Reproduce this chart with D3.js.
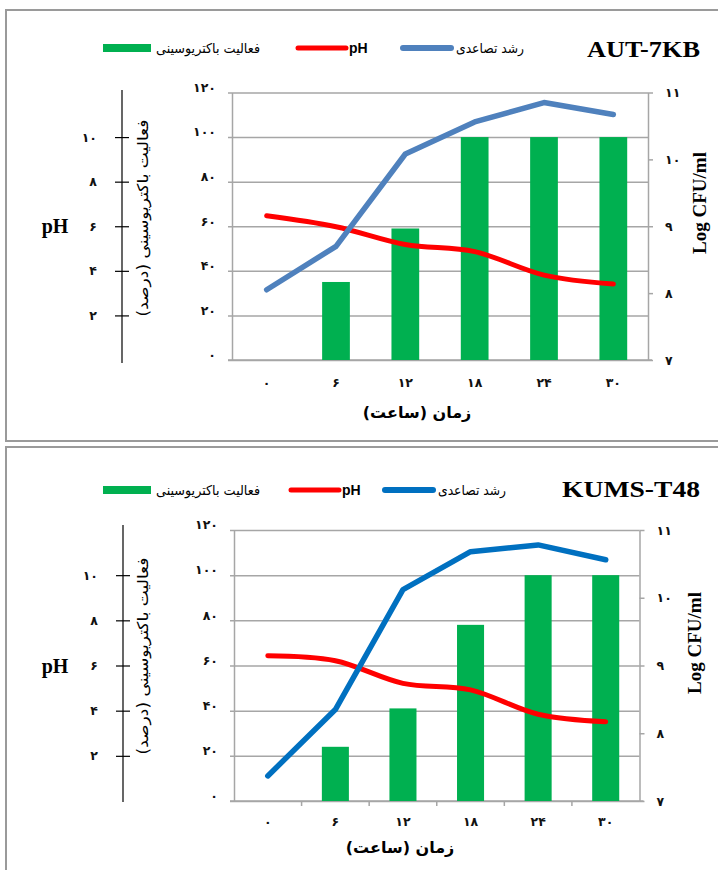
<!DOCTYPE html>
<html><head><meta charset="utf-8">
<script src="https://cdn.jsdelivr.net/npm/d3@7/dist/d3.min.js"></script>
<style>
html,body{margin:0;padding:0;background:#fff;}
svg{display:block;}
.fa{font-family:"DejaVu Sans",sans-serif;}
</style></head>
<body>
<svg id="c" width="718" height="870"></svg>
<script>
// ---------- DATA ----------
const timeLabels = ["0", "6", "12", "18", "24", "30"];
const pctTicks = [0, 20, 40, 60, 80, 100, 120];
const pHTicks = [2, 4, 6, 8, 10];
const logTicks = [7, 8, 9, 10, 11];

const autTitle = "AUT-7KB";
const autBacteriocin = [0, 35, 59, 100, 100, 100];
const autPH = [6.47, 5.98, 5.18, 4.86, 3.81, 3.41];
const autGrowth = [8.05, 8.70, 10.08, 10.56, 10.85, 10.67];

const kumsTitle = "KUMS-T48";
const kumsBacteriocin = [0, 24, 41, 78, 100, 100];
const kumsPH = [6.43, 6.21, 5.21, 4.92, 3.84, 3.51];
const kumsGrowth = [7.37, 8.35, 10.12, 10.68, 10.78, 10.56];

const legendBact = "فعالیت باکتریوسینی";
const legendPH = "pH";
const legendGrowth = "رشد تصاعدی";
const yLeftTitle = "فعالیت باکتریوسینی (درصد)";
const xTitle = "زمان (ساعت)";
const yRightTitle = "Log CFU/ml";
const pHTitle = "pH";

// ---------- HELPERS ----------
const faDigits = "۰۱۲۳۴۵۶۷۸۹";
const fa = s => String(s).replace(/[0-9]/g, d => faDigits[+d]);
const svg = d3.select("#c");
const GREEN = "#00B050", RED = "#FF0000", GRID = "#A6A6A6";

function panel(cfg) {
  const g = svg.append("g");
  g.append("rect").attr("x", 6).attr("y", cfg.boxTop).attr("width", 740).attr("height", cfg.boxH)
    .attr("fill", "none").attr("stroke", "#9a9a9a").attr("stroke-width", 2);

  const L = cfg.L, R = cfg.R, T = cfg.T, B = cfg.B;
  const x = d3.scaleBand().domain(timeLabels).range([L, R]).paddingInner(0.6).paddingOuter(0.3);
  const xp = d3.scalePoint().domain(timeLabels).range([L, R]).padding(0.5);
  const yPct = d3.scaleLinear().domain([0, 120]).range([B, T]);
  const yPH = d3.scaleLinear().domain([0, 12]).range([B, T]);
  const yLog = d3.scaleLinear().domain([7, 11]).range([B, T]);

  const gl = g.append("g").attr("transform", `translate(${L},0)`)
    .call(d3.axisLeft(yPct).tickValues(pctTicks).tickSize(-(R - L)).tickSizeOuter(0).tickPadding(16).tickFormat(fa));
  gl.select(".domain").attr("stroke", GRID).attr("stroke-width", 1.5);
  gl.selectAll(".tick line").attr("stroke", GRID).attr("stroke-width", 1.5).attr("x1", -4);
  gl.selectAll(".tick text").attr("class", "fa").attr("font-size", 12.5).attr("font-weight", "bold")
    .attr("fill", "#111").attr("dy", "-0.1em");

  const gr = g.append("g").attr("transform", `translate(${R},0)`)
    .call(d3.axisRight(yLog).tickValues(logTicks).tickSize(5).tickSizeOuter(0).tickPadding(12).tickFormat(fa));
  gr.select(".domain").attr("stroke", GRID).attr("stroke-width", 1.5);
  gr.selectAll(".tick line").attr("stroke", GRID).attr("stroke-width", 1.5);
  gr.selectAll(".tick text").attr("class", "fa").attr("font-size", 12.5).attr("font-weight", "bold").attr("fill", "#111");

  const gb = g.append("g").attr("transform", `translate(0,${B})`)
    .call(d3.axisBottom(x).tickSize(0).tickPadding(cfg.xPad).tickFormat(fa));
  gb.select(".domain").attr("stroke", GRID).attr("stroke-width", 1.5).attr("d", `M${L - 4},0H${R + 4}`);
  gb.selectAll(".tick text").attr("class", "fa").attr("font-size", 12.5).attr("font-weight", "bold").attr("fill", "#111");
  if (cfg.xTicks) {
    const step = x.step();
    g.append("g").selectAll("line").data(d3.range(1, timeLabels.length)).join("line")
      .attr("x1", i => L + i * step).attr("x2", i => L + i * step)
      .attr("y1", B).attr("y2", B + 5).attr("stroke", GRID).attr("stroke-width", 1.5);
  }

  g.append("g").selectAll("rect").data(cfg.bact).join("rect")
    .attr("x", (d, i) => x(timeLabels[i])).attr("width", x.bandwidth())
    .attr("y", d => yPct(d)).attr("height", d => B - yPct(d)).attr("fill", GREEN);

  g.append("path").datum(cfg.ph)
    .attr("d", d3.line().x((d, i) => xp(timeLabels[i])).y(d => yPH(d)).curve(d3.curveCatmullRom.alpha(0)))
    .attr("fill", "none").attr("stroke", RED).attr("stroke-width", 5).attr("stroke-linecap", "round").attr("stroke-linejoin", "round");
  g.append("path").datum(cfg.growth)
    .attr("d", d3.line().x((d, i) => xp(timeLabels[i])).y(d => yLog(d)))
    .attr("fill", "none").attr("stroke", cfg.blue).attr("stroke-width", 5.5).attr("stroke-linecap", "round").attr("stroke-linejoin", "round");

  const gp = g.append("g").attr("transform", `translate(${cfg.pHx},0)`)
    .call(d3.axisLeft(yPH).tickValues(pHTicks).tickSize(7).tickSizeOuter(0).tickPadding(18).tickFormat(fa));
  gp.select(".domain").attr("stroke", "#000").attr("stroke-width", 1.2).attr("d", `M0,${cfg.pHTop}V${cfg.pHBot}`);
  gp.selectAll(".tick line").attr("stroke", "#000").attr("stroke-width", 1.2).attr("x1", -7).attr("x2", 7);
  gp.selectAll(".tick text").attr("class", "fa").attr("font-size", 12.5).attr("font-weight", "bold").attr("fill", "#111");

  g.append("text").attr("x", 55).attr("y", yPH(6)).attr("dy", "0.35em").attr("text-anchor", "middle")
    .attr("font-family", "Liberation Serif").attr("font-weight", "bold").attr("font-size", 20).text(pHTitle);

  g.append("text").attr("class", "fa").attr("transform", `translate(143,${cfg.ltY}) rotate(-90)`)
    .attr("text-anchor", "middle").attr("dy", "0.35em").attr("direction", "rtl").style("direction", "rtl")
    .attr("font-size", 15).attr("textLength", 197).attr("lengthAdjust", "spacingAndGlyphs")
    .text(yLeftTitle);
  g.append("text").attr("transform", `translate(${cfg.rtX},${cfg.rtY}) rotate(-90)`)
    .attr("text-anchor", "middle").attr("dy", "0.35em")
    .attr("font-family", "Liberation Serif").attr("font-weight", "bold").attr("font-size", 18)
    .attr("textLength", 102).attr("lengthAdjust", "spacingAndGlyphs").text(yRightTitle);
  g.append("text").attr("class", "fa").attr("x", cfg.xtX).attr("y", cfg.xtY).attr("text-anchor", "middle")
    .attr("direction", "rtl").style("direction", "rtl").attr("font-size", 16).attr("font-weight", "bold")
    .text(xTitle);

  g.append("text").attr("x", 700).attr("y", cfg.titleY).attr("text-anchor", "end")
    .attr("font-family", "Liberation Serif").attr("font-weight", "bold").attr("font-size", 24)
    .attr("textLength", cfg.titleW).attr("lengthAdjust", "spacingAndGlyphs").text(cfg.title);

  const ly = cfg.legY;
  g.append("rect").attr("x", 103).attr("y", ly - 4).attr("width", 48).attr("height", 8).attr("fill", GREEN);
  g.append("text").attr("class", "fa").attr("x", 208).attr("y", ly).attr("dy", "0.35em").attr("text-anchor", "middle")
    .attr("direction", "rtl").style("direction", "rtl").attr("font-size", 13.5)
    .attr("textLength", 104).attr("lengthAdjust", "spacingAndGlyphs").text(legendBact);
  g.append("line").attr("x1", cfg.redX).attr("x2", cfg.redX + 48).attr("y1", ly).attr("y2", ly)
    .attr("stroke", RED).attr("stroke-width", 5).attr("stroke-linecap", "round");
  g.append("text").attr("x", cfg.redX + 51).attr("y", ly).attr("dy", "0.35em")
    .attr("font-family", "Liberation Sans").attr("font-weight", "bold").attr("font-size", 14).text(legendPH);
  g.append("line").attr("x1", cfg.blueX).attr("x2", cfg.blueX + 48).attr("y1", ly).attr("y2", ly)
    .attr("stroke", cfg.blue).attr("stroke-width", 6).attr("stroke-linecap", "round");
  g.append("text").attr("class", "fa").attr("x", cfg.blueX + 87).attr("y", ly).attr("dy", "0.35em").attr("text-anchor", "middle")
    .attr("direction", "rtl").style("direction", "rtl").attr("font-size", 13.5)
    .attr("textLength", 68).attr("lengthAdjust", "spacingAndGlyphs").text(legendGrowth);
}

panel({
  boxTop: 10, boxH: 431, L: 232, R: 648, T: 92.5, B: 360, xPad: 18, xTicks: false,
  bact: autBacteriocin, ph: autPH, growth: autGrowth, blue: "#4F81BD",
  pHx: 122, pHTop: 90, pHBot: 363, ltY: 218, rtX: 700, rtY: 203, xtX: 417, xtY: 418,
  title: autTitle, titleW: 113, titleY: 57, legY: 48, redX: 298, blueX: 403
});
panel({
  boxTop: 447, boxH: 440, L: 234, R: 639.5, T: 530, B: 801, xPad: 16, xTicks: true,
  bact: kumsBacteriocin, ph: kumsPH, growth: kumsGrowth, blue: "#0070C0",
  pHx: 123, pHTop: 525, pHBot: 802, ltY: 656, rtX: 695, rtY: 643, xtX: 400, xtY: 853,
  title: kumsTitle, titleW: 138, titleY: 497, legY: 490, redX: 291, blueX: 385
});
</script>
</body></html>
